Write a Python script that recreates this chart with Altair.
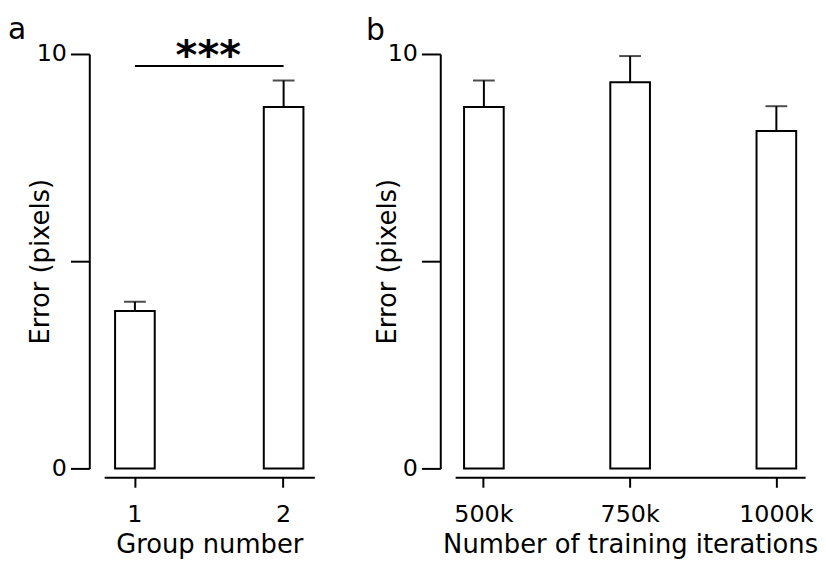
import altair as alt
import pandas as pd

# Panel a data
groups = ["1", "2"]
group_means = [3.80, 8.72]
group_errs = [0.22, 0.64]

# Panel b data
iterations = ["500k", "750k", "1000k"]
iter_means = [8.72, 9.32, 8.14]
iter_errs = [0.64, 0.63, 0.60]

# significance annotation
sig_from = "1"
sig_to = "2"
sig_level = 9.71
sig_text = "***"

FONT = "DejaVu Sans"
H = 418
WA = 212
WB = 353

df_a = pd.DataFrame({"cat": groups, "mean": group_means, "err": group_errs})
df_a["top"] = df_a["mean"] + df_a["err"]
df_b = pd.DataFrame({"cat": iterations, "mean": iter_means, "err": iter_errs})
df_b["top"] = df_b["mean"] + df_b["err"]
df_sig = pd.DataFrame({"x": [sig_from], "x2": [sig_to], "y": [sig_level], "label": [sig_text]})

yscale = alt.Scale(domain=[0, 10], nice=False, zero=True)


def yaxis(title_x):
    return alt.Axis(values=[0, 5, 10], labelExpr="datum.value == 5 ? '' : datum.label",
                    tickSize=19, tickWidth=2, domainWidth=2, domainColor="black",
                    tickColor="black", labelColor="black", labelFont=FONT, labelFontSize=24,
                    labelPadding=4, offset=15, grid=False, title="Error (pixels)",
                    titleFont=FONT, titleFontSize=26, titleFontWeight="normal",
                    titleColor="black", titleX=title_x, titleY=H / 2, titleBaseline="bottom",
                    titleAngle=270)


def xaxis(title):
    return alt.Axis(tickSize=10, tickWidth=2, domainWidth=2, domainColor="black",
                    tickColor="black", labelColor="black", labelFont=FONT, labelFontSize=24,
                    labelPadding=16, labelAngle=0, offset=9, grid=False, title=title,
                    titleFont=FONT, titleFontSize=26, titleFontWeight="normal",
                    titleColor="black", titleBaseline="alphabetic", titleY=76)


def panel(df, order, xtitle, width, pad_outer, letter, dx, dy, title_x):
    xs = alt.Scale(domain=order, paddingInner=0.72, paddingOuter=pad_outer)
    base = alt.Chart(df)
    bars = base.mark_bar(fill="white", stroke="black", strokeWidth=2, size=40).encode(
        x=alt.X("cat:N", sort=order, scale=xs, axis=xaxis(xtitle)),
        y=alt.Y("mean:Q", scale=yscale, axis=yaxis(title_x)),
    )
    rules = base.mark_rule(color="black", strokeWidth=2).encode(
        x=alt.X("cat:N", sort=order), y="mean:Q", y2="top:Q")
    caps = base.mark_tick(color="black", thickness=2, size=22, orient="horizontal").encode(
        x=alt.X("cat:N", sort=order), y="top:Q")
    return [bars, rules, caps], dict(width=width, height=H,
                                     title=alt.TitleParams(letter, anchor="start", frame="bounds",
                                                           font=FONT, fontSize=30,
                                                           fontWeight="normal", color="black",
                                                           dx=dx, dy=dy, offset=0))


layers_a, props_a = panel(df_a, groups, "Group number", WA, 0.0667, "a", -20, 9.5, -36)
sig_line = alt.Chart(df_sig).mark_rule(color="black", strokeWidth=2).encode(
    x=alt.X("x:N", sort=groups), x2="x2:N", y="y:Q")
sig_lab = alt.Chart(df_sig).mark_text(font=FONT, fontSize=42, fontWeight="bold",
                                      baseline="alphabetic", dy=3, color="black").encode(
    x=alt.value(WA / 2 - 1), y="y:Q", text="label:N")
chart_a = alt.layer(*layers_a, sig_line, sig_lab).properties(**props_a)

layers_b, props_b = panel(df_b, iterations, "Number of training iterations", WB, 0.0566,
                          "b", -9, 3.5, -40)
chart_b = alt.layer(*layers_b).properties(**props_b)

chart = alt.hconcat(chart_a, chart_b, spacing=52).configure(
    padding={"left": 0, "top": 4, "right": 0, "bottom": 0}, background="white"
).configure_view(stroke=None)

chart.save("out.html", embed_options={"renderer": "svg", "actions": False})
